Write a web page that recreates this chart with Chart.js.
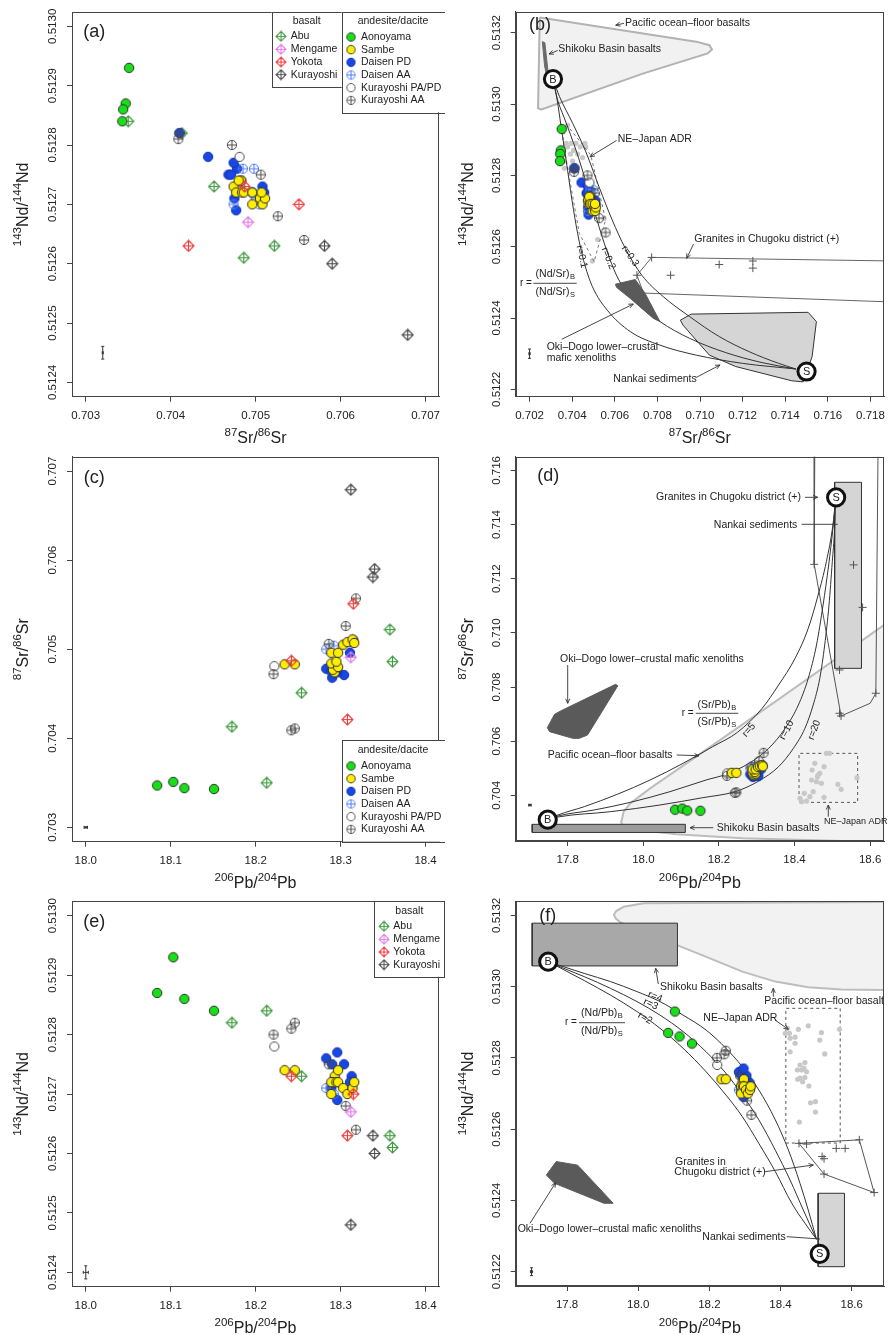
<!DOCTYPE html>
<html>
<head>
<meta charset="utf-8">
<title>Sr–Nd–Pb isotope diagrams</title>
<script src="https://cdn.jsdelivr.net/npm/chart.js@4.4.1/dist/chart.umd.min.js"></script>
<style>
  html, body { margin: 0; padding: 0; background: #fff; }
  #fig { position: relative; width: 890px; height: 1335px; overflow: hidden; }
  #fig canvas { position: absolute; }
</style>
</head>
<body>
<div id="fig">
  <canvas id="pa" width="445" height="445" style="left:0;top:0"></canvas>
  <canvas id="pb" width="445" height="445" style="left:445px;top:0"></canvas>
  <canvas id="pc" width="445" height="445" style="left:0;top:445px"></canvas>
  <canvas id="pd" width="445" height="445" style="left:445px;top:445px"></canvas>
  <canvas id="pe" width="445" height="445" style="left:0;top:890px"></canvas>
  <canvas id="pf" width="445" height="445" style="left:445px;top:890px"></canvas>
</div>
<script>
const FONT = '"Liberation Sans", Arial, Helvetica, sans-serif';

// ---------- samples: 87Sr/86Sr, 143Nd/144Nd, 206Pb/204Pb ----------
// basalts
const abuSr = [0.70413, 0.70350, 0.70451, 0.70522, 0.70486];
const abuNd = [0.51282, 0.51284, 0.51273, 0.51263, 0.51261];
const abuPb = [18.172, 18.213, 18.254, 18.358, 18.361];
const mengameSr = [0.70491];
const mengameNd = [0.51267];
const mengamePb = [18.312];
const yokotaSr = [0.70421, 0.70487, 0.70551];
const yokotaNd = [0.51263, 0.51273, 0.51270];
const yokotaPb = [18.308, 18.242, 18.315];
const kuraBasSr = [0.70581, 0.70590, 0.70679];
const kuraBasNd = [0.51263, 0.51260, 0.51248];
const kuraBasPb = [18.338, 18.340, 18.312];
// andesite / dacite
const aonoSr = [0.70347, 0.70351, 0.70344, 0.70343];
const aonoNd = [0.51287, 0.51293, 0.51286, 0.51284];
const aonoPb = [18.084, 18.103, 18.116, 18.151];
const sambeSr = [0.70483, 0.70483, 0.70474, 0.70477, 0.70484, 0.70480, 0.70486, 0.70496, 0.70496, 0.70505, 0.70508, 0.70511, 0.70507];
const sambeNd = [0.51274, 0.51274, 0.51273, 0.51272, 0.51272, 0.51274, 0.51272, 0.51270, 0.51272, 0.51271, 0.51270, 0.51271, 0.51272];
const sambePb = [18.234, 18.246, 18.293, 18.291, 18.289, 18.297, 18.295, 18.289, 18.297, 18.303, 18.308, 18.314, 18.316];
const daisenPdSr = [0.70410, 0.70444, 0.70478, 0.70468, 0.70471, 0.70474, 0.70510, 0.70508, 0.70496, 0.70475, 0.70477];
const daisenPdNd = [0.51282, 0.51278, 0.51276, 0.51275, 0.51275, 0.51277, 0.51272, 0.51273, 0.51272, 0.51271, 0.51269];
const daisenPdPb = [null, null, 18.283, 18.290, 18.304, 18.296, 18.315, 18.313, 18.311, 18.289, 18.296];
const daisenAaSr = [0.70485, 0.70498, 0.70500, 0.70504, 0.70474];
const daisenAaNd = [0.51276, 0.51276, 0.51271, 0.51270, 0.51270];
const daisenAaPb = [null, null, 18.283, 18.292, null];
const kuraPaSr = [0.70481];
const kuraPaNd = [0.51278];
const kuraPaPb = [18.222];
const kuraAaSr = [0.70472, 0.70409, 0.70411, 0.70506, 0.70526, 0.70557];
const kuraAaNd = [0.51280, 0.51281, 0.51282, 0.51275, 0.51268, 0.51264];
const kuraAaPb = [18.221, 18.242, 18.246, 18.286, 18.306, 18.318];

// end-members
const endB = { sr: 0.70310, nd: 0.51307, pb: 17.747 };
const endS = { sr: 0.71500, nd: 0.51225, pb: 18.510 };

// analytical uncertainty (2 s.d.) drawn at a corner of each diagram
const errA = { x: 0.70320, y: 0.51245, dx: 0.000006, dy: 0.0000107 };
const errB = { x: 0.70200, y: 0.51230, dx: 0.00003, dy: 0.000013 };
const errC = { x: 18.000, y: 0.70300, dx: 0.002, dy: 0.000007 };
const errD = { x: 17.700, y: 0.70364, dx: 0.003, dy: 0.00002 };
const errE = { x: 18.000, y: 0.51240, dx: 0.003, dy: 0.000011 };
const errF = { x: 17.700, y: 0.51220, dx: 0.003, dy: 0.000011 };

// ---------- tick labels ----------
const ticksSr1 = [0.703, 0.704, 0.705, 0.706, 0.707];
const ticksNd1 = [0.5124, 0.5125, 0.5126, 0.5127, 0.5128, 0.5129, 0.5130];
const ticksSr2 = [0.702, 0.704, 0.706, 0.708, 0.710, 0.712, 0.714, 0.716, 0.718];
const ticksNd2 = [0.5122, 0.5124, 0.5126, 0.5128, 0.5130, 0.5132];
const ticksPb1 = [18.0, 18.1, 18.2, 18.3, 18.4];
const ticksPb2 = [17.8, 18.0, 18.2, 18.4, 18.6];
const ticksSr3 = [0.704, 0.706, 0.708, 0.710, 0.712, 0.714, 0.716];

// ---------- reference fields, Sr–Nd plane ----------
const pacificSrNd = [[0.70248,0.513243],[0.70982,0.513175],[0.71044,0.513165],[0.71056,0.513153],[0.71036,0.513142],[0.70735,0.513086],[0.70256,0.512985],[0.70240,0.512988]];
const shikokuSrNd = [[0.70260,0.513175],[0.70272,0.513172],[0.70287,0.513090],[0.70283,0.513075],[0.70271,0.513105]];
const okiSrNd = [[0.706034,0.512495],[0.706961,0.512508],[0.707425,0.512469],[0.708121,0.51239],[0.707811,0.512399],[0.70673,0.512455],[0.70608,0.512486]];
const nankaiSrNd = [[0.709079,0.512394],[0.709589,0.512411],[0.715076,0.512416],[0.715462,0.51239],[0.715261,0.512292],[0.714844,0.512221],[0.714303,0.512224],[0.711675,0.512264],[0.710439,0.512296],[0.709203,0.51238]];
const graniteSrNd = [[0.70773,0.51257],[0.70704,0.51252],[0.70862,0.51252],[0.71090,0.51255],[0.71248,0.51256],[0.71248,0.51254]];
const graniteEnvSrNd = [[0.7190,0.51256],[0.70773,0.51257],[0.70704,0.51252],[0.70735,0.51247],[0.7190,0.512445]];
const adrSrNd = [[0.70379,0.51294],[0.70372,0.51289],[0.70395,0.51289],[0.70418,0.51289],[0.70379,0.51288],[0.70407,0.51287],[0.70438,0.51288],[0.70460,0.51289],[0.70426,0.51286],[0.70392,0.51286],[0.70449,0.51285],[0.70361,0.51284],[0.70402,0.51284],[0.70364,0.51282],[0.70464,0.51288],[0.70480,0.51274],[0.70550,0.51268],[0.70520,0.51262],[0.70495,0.51256]];
const adrEnvSrNd = [[0.703716,0.512944],[0.704875,0.512857],[0.70557,0.512675],[0.705029,0.512558],[0.704334,0.512637],[0.703561,0.512899]];
const mixR01 = [[0.70310,0.51307],[0.703298,0.513011],[0.703484,0.512936],[0.703716,0.512843],[0.703994,0.51273],[0.704257,0.512637],[0.704535,0.512562],[0.704952,0.512488],[0.705648,0.512422],[0.706729,0.512362],[0.708121,0.512324],[0.709821,0.512296],[0.711985,0.512273],[0.7145,0.512257]];
const mixR02 = [[0.70310,0.51307],[0.703298,0.513016],[0.703669,0.512955],[0.704179,0.512871],[0.70472,0.512768],[0.705261,0.512656],[0.705725,0.512572],[0.706189,0.512507],[0.706961,0.512446],[0.708121,0.51239],[0.709512,0.512343],[0.711212,0.512303],[0.712912,0.512275],[0.7145,0.512257]];
const mixR03 = [[0.70310,0.51307],[0.703406,0.513021],[0.704025,0.512946],[0.704643,0.512866],[0.705261,0.512768],[0.705879,0.512675],[0.706498,0.512595],[0.707271,0.51252],[0.708275,0.51246],[0.709512,0.512404],[0.710903,0.512348],[0.712294,0.512306],[0.713685,0.512273],[0.7145,0.512257]];

// ---------- reference fields, Pb–Sr plane ----------
const pacificPbSr = [[18.70,0.710289],[18.6366,0.710289],[18.349,0.707459],[18.1399,0.705428],[18.0179,0.704258],[17.9656,0.703705],[17.948,0.70340],[17.9412,0.70300],[17.950,0.70280],[17.9656,0.702757],[18.0876,0.70256],[18.2619,0.702412],[18.70,0.70225]];
const shikokuPbSr = [[17.706,0.70263],[18.111,0.70263],[18.111,0.70293],[17.706,0.70293]];
const nankaiPbSr = [[18.506,0.70869],[18.577,0.70869],[18.577,0.71556],[18.506,0.71556]];
const okiPbSr = [[17.746,0.706498],[17.7651,0.706991],[17.7826,0.707126],[17.9264,0.708098],[17.9325,0.708049],[17.8523,0.706228],[17.8305,0.706105],[17.8131,0.706105],[17.7521,0.706351]];
const granitePbSr = [[18.452,0.71253],[18.556,0.71251],[18.580,0.71094],[18.519,0.70863],[18.519,0.70703],[18.523,0.70693],[18.615,0.70777]];
const graniteEnvPbSr = [[18.4536,0.7170],[18.452,0.71253],[18.523,0.70693],[18.600,0.70740],[18.615,0.70777],[18.621,0.7170]];
const adrBoxPbSr = [[18.4118,0.70374],[18.5669,0.70374],[18.5669,0.70555],[18.4118,0.70555]];
const adrPbSr = [[18.4841,0.705551],[18.4928,0.705551],[18.4536,0.705182],[18.478,0.705058],[18.4466,0.704935],[18.4623,0.704751],[18.458,0.704505],[18.4449,0.704566],[18.471,0.704443],[18.5146,0.704406],[18.5233,0.704222],[18.5652,0.704652],[18.4492,0.704135],[18.4257,0.704074],[18.4405,0.703951],[18.4144,0.703889],[18.4187,0.703766],[18.4318,0.70379],[18.478,0.703926],[18.4606,0.70469],[18.4667,0.704812]];
const mixR5 = [[17.747,0.70310],[17.7739,0.703274],[17.8436,0.703582],[17.9307,0.704037],[18.0179,0.704566],[18.105,0.705182],[18.1834,0.705797],[18.2488,0.706326],[18.3142,0.707212],[18.3577,0.708074],[18.4013,0.709058],[18.4362,0.710166],[18.4623,0.711397],[18.4841,0.712628],[18.5015,0.713982],[18.5085,0.71490]];
const mixR10 = [[17.747,0.70310],[17.7739,0.703237],[17.8697,0.703459],[17.9656,0.703742],[18.0702,0.704135],[18.166,0.704566],[18.2183,0.704775],[18.2793,0.705182],[18.3316,0.705735],[18.3752,0.706474],[18.41,0.707335],[18.4362,0.70832],[18.458,0.709551],[18.4754,0.711028],[18.4902,0.712505],[18.5015,0.713858],[18.5085,0.71490]];
const mixR20 = [[17.747,0.70310],[17.7739,0.7032],[17.9133,0.703397],[18.044,0.703643],[18.1573,0.703914],[18.2427,0.704135],[18.3054,0.704529],[18.3577,0.705058],[18.3969,0.705735],[18.4274,0.706474],[18.4492,0.707335],[18.4667,0.70832],[18.4797,0.709551],[18.4911,0.711028],[18.4998,0.712628],[18.5059,0.713858],[18.5085,0.71490]];

// ---------- reference fields, Pb–Nd plane ----------
const pacificPbNd = [[18.75,0.513238],[18.0148,0.513234],[17.9593,0.513224],[17.938,0.513212],[17.9315,0.513201],[17.938,0.51319],[17.95,0.51318],[18.0148,0.513154],[18.1074,0.513117],[18.2,0.51308],[18.2926,0.513042],[18.3852,0.513014],[18.4778,0.512998],[18.5704,0.512992],[18.75,0.51299]];
const shikokuPbNd = [[17.7019,0.513058],[18.1102,0.513058],[18.1102,0.513178],[17.7019,0.513178]];
const nankaiPbNd = [[18.5056,0.512214],[18.5796,0.512214],[18.5796,0.51242],[18.5056,0.51242]];
const okiPbNd = [[17.7417,0.512471],[17.7694,0.512509],[17.8296,0.512499],[17.9296,0.512392],[17.9037,0.512392],[17.7648,0.512448]];
const granitePbNd = [[18.4518,0.51256],[18.4731,0.512558],[18.5565,0.512546],[18.5815,0.512546],[18.5167,0.512523],[18.5222,0.512517],[18.5222,0.512474],[18.663,0.512422],[18.6213,0.51257]];
const graniteEnvPbNd = [[18.4518,0.51256],[18.6213,0.51257],[18.663,0.512422],[18.5222,0.512474],[18.4518,0.51256]];
const adrBoxPbNd = [[18.4148,0.512561],[18.5676,0.512561],[18.5676,0.512939],[18.4148,0.512939]];
const adrPbNd = [[18.4194,0.512883],[18.425,0.512869],[18.413,0.512869],[18.4268,0.512855],[18.4407,0.512858],[18.45,0.51288],[18.4778,0.51289],[18.5148,0.512871],[18.5102,0.51285],[18.4407,0.512841],[18.4268,0.512817],[18.5241,0.512811],[18.5657,0.51288],[18.4685,0.512787],[18.4546,0.51278],[18.4472,0.512766],[18.4593,0.512766],[18.4657,0.512771],[18.4731,0.512761],[18.4546,0.512743],[18.4685,0.512745],[18.4481,0.51274],[18.462,0.512733],[18.4796,0.512721],[18.4843,0.512674],[18.4981,0.512677],[18.4981,0.512648],[18.4528,0.51262]];
const mixR4 = [[17.747,0.51307],[17.7741,0.513061],[17.8481,0.513037],[17.9222,0.513014],[17.9963,0.512986],[18.0611,0.512958],[18.1259,0.51292],[18.1907,0.512878],[18.2463,0.512827],[18.2926,0.512775],[18.3389,0.51271],[18.3852,0.512626],[18.4222,0.512541],[18.4546,0.512448],[18.4778,0.512373],[18.5009,0.512291]];
const mixR3 = [[17.747,0.51307],[17.7741,0.513058],[17.8481,0.513028],[17.9222,0.512995],[17.9963,0.512958],[18.0611,0.51292],[18.1259,0.512874],[18.1907,0.512817],[18.2463,0.512757],[18.2926,0.512696],[18.3389,0.512626],[18.3852,0.512541],[18.4268,0.512457],[18.4639,0.512373],[18.5009,0.512291]];
const mixR2 = [[17.747,0.51307],[17.7741,0.513056],[17.8481,0.513017],[17.9222,0.512976],[17.9963,0.51293],[18.0611,0.512883],[18.1259,0.512827],[18.1907,0.512761],[18.2463,0.512696],[18.2926,0.512635],[18.3389,0.51256],[18.3852,0.512481],[18.4315,0.512392],[18.4685,0.512336],[18.5009,0.512291]];

// ---------- marker images ----------
function makeMarker(size, paint) {
  const c = document.createElement('canvas');
  c.width = c.height = size;
  const g = c.getContext('2d');
  paint(g, size / 2);
  return c;
}
function diamondPlus(col) {
  return makeMarker(13, (g, m) => {
    const h = 5.5;
    g.strokeStyle = col; g.lineWidth = 1.1;
    g.beginPath();
    g.moveTo(m, m - h); g.lineTo(m + h, m); g.lineTo(m, m + h); g.lineTo(m - h, m); g.closePath();
    g.moveTo(m, m - h); g.lineTo(m, m + h);
    g.moveTo(m - h, m); g.lineTo(m + h, m);
    g.stroke();
  });
}
function disc(fill, stroke) {
  return makeMarker(12, (g, m) => {
    g.fillStyle = fill; g.strokeStyle = stroke; g.lineWidth = 1;
    g.beginPath(); g.arc(m, m, 4.7, 0, Math.PI * 2); g.fill(); g.stroke();
  });
}
function ring(col) {
  return makeMarker(12, (g, m) => {
    g.fillStyle = '#fff'; g.strokeStyle = col; g.lineWidth = 1;
    g.beginPath(); g.arc(m, m, 4.6, 0, Math.PI * 2); g.fill(); g.stroke();
  });
}
function circlePlus(col) {
  return makeMarker(12, (g, m) => {
    g.strokeStyle = col; g.lineWidth = 1;
    g.beginPath(); g.arc(m, m, 4.6, 0, Math.PI * 2);
    g.moveTo(m, m - 4.6); g.lineTo(m, m + 4.6);
    g.moveTo(m - 4.6, m); g.lineTo(m + 4.6, m);
    g.stroke();
  });
}
const MK = {
  abu: diamondPlus('#3f9a3f'),
  mengame: diamondPlus('#e07ae8'),
  yokota: diamondPlus('#ee3a3a'),
  kuraBas: diamondPlus('#4a4a4a'),
  aono: disc('#18e018', '#2c2c2c'),
  sambe: disc('#ffee00', '#2c2c2c'),
  daisenPd: disc('#1747e4', '#1533a8'),
  daisenAa: circlePlus('#4a78f0'),
  kuraPa: ring('#4a4a4a'),
  kuraAa: circlePlus('#4a4a4a'),
};

const GROUPS = {
  abu:      { label: 'Abu',             sr: abuSr,      nd: abuNd,      pb: abuPb },
  mengame:  { label: 'Mengame',         sr: mengameSr,  nd: mengameNd,  pb: mengamePb },
  yokota:   { label: 'Yokota',          sr: yokotaSr,   nd: yokotaNd,   pb: yokotaPb },
  kuraBas:  { label: 'Kurayoshi',       sr: kuraBasSr,  nd: kuraBasNd,  pb: kuraBasPb },
  aono:     { label: 'Aonoyama',        sr: aonoSr,     nd: aonoNd,     pb: aonoPb },
  sambe:    { label: 'Sambe',           sr: sambeSr,    nd: sambeNd,    pb: sambePb },
  daisenPd: { label: 'Daisen PD',       sr: daisenPdSr, nd: daisenPdNd, pb: daisenPdPb },
  daisenAa: { label: 'Daisen AA',       sr: daisenAaSr, nd: daisenAaNd, pb: daisenAaPb },
  kuraPa:   { label: 'Kurayoshi PA/PD', sr: kuraPaSr,   nd: kuraPaNd,   pb: kuraPaPb },
  kuraAa:   { label: 'Kurayoshi AA',    sr: kuraAaSr,   nd: kuraAaNd,   pb: kuraAaPb },
};
const BASALT_KEYS = ['abu', 'mengame', 'yokota', 'kuraBas'];
const ANDESITE_KEYS = ['aono', 'sambe', 'daisenPd', 'daisenAa', 'kuraPa', 'kuraAa'];
const ALL_ORDER = ['abu', 'daisenPd', 'daisenAa', 'kuraPa', 'kuraAa', 'sambe', 'aono', 'mengame', 'yokota', 'kuraBas'];
const AD_ORDER = ['daisenPd', 'daisenAa', 'kuraPa', 'kuraAa', 'sambe', 'aono'];

// ---------- dataset helpers ----------
function pts(xs, ys) {
  const out = [];
  for (let i = 0; i < xs.length; i++) if (xs[i] != null && ys[i] != null) out.push({ x: xs[i], y: ys[i] });
  return out;
}
const toXY = arr => arr.map(p => ({ x: p[0], y: p[1] }));
function groupSets(keys, xk, yk) {
  return keys.map((k, i) => ({
    data: pts(GROUPS[k][xk], GROUPS[k][yk]),
    showLine: false, fill: false,
    pointStyle: MK[k], pointRadius: 5,
    order: 40 - i,
  }));
}
function shape(arr, o) {
  const d = toXY(arr);
  if (o.closed) d.push({ ...d[0] });
  return {
    data: d, showLine: true, pointRadius: 0,
    borderColor: o.stroke || 'rgba(0,0,0,0)', borderWidth: o.width == null ? 1 : o.width,
    borderDash: o.dash || [],
    backgroundColor: o.fill || 'rgba(0,0,0,0)',
    fill: o.fill ? 'shape' : false,
    tension: o.tension || 0,
    cubicInterpolationMode: o.mono ? 'monotone' : 'default',
    order: o.order,
  };
}
function dots(arr, o) {
  return {
    data: toXY(arr), showLine: false, fill: false,
    pointStyle: o.style || 'circle', pointRadius: o.r,
    backgroundColor: o.fill || 'rgba(0,0,0,0)', borderColor: o.stroke || 'rgba(0,0,0,0)',
    borderWidth: o.width || 0, order: o.order,
  };
}

// ---------- drawing helpers ----------
function txt(ctx, s, x, y, o = {}) {
  ctx.save();
  ctx.font = `${o.size || 10.5}px ${FONT}`;
  ctx.fillStyle = o.color || '#222';
  ctx.textAlign = o.align || 'left';
  ctx.textBaseline = 'middle';
  ctx.translate(x, y);
  if (o.rot) ctx.rotate(o.rot * Math.PI / 180);
  ctx.fillText(s, 0, 0);
  ctx.restore();
}
function seg(ctx, x1, y1, x2, y2, head) {
  ctx.save();
  ctx.strokeStyle = '#333'; ctx.lineWidth = 0.9;
  ctx.beginPath(); ctx.moveTo(x1, y1); ctx.lineTo(x2, y2);
  if (head) {
    const a = Math.atan2(y2 - y1, x2 - x1), L = 5, w = 0.42;
    ctx.moveTo(x2 - L * Math.cos(a - w), y2 - L * Math.sin(a - w));
    ctx.lineTo(x2, y2);
    ctx.lineTo(x2 - L * Math.cos(a + w), y2 - L * Math.sin(a + w));
  }
  ctx.stroke(); ctx.restore();
}
function subText(ctx, base, sub, cx, y) {
  ctx.save();
  ctx.fillStyle = '#222'; ctx.textBaseline = 'middle'; ctx.textAlign = 'left';
  ctx.font = `10.5px ${FONT}`; const bw = ctx.measureText(base).width;
  ctx.font = `7.5px ${FONT}`; const sw = ctx.measureText(sub).width;
  const x0 = cx - (bw + sw) / 2;
  ctx.font = `10.5px ${FONT}`; ctx.fillText(base, x0, y);
  ctx.font = `7.5px ${FONT}`; ctx.fillText(sub, x0 + bw + 0.5, y + 3);
  ctx.restore();
}
function ratioFormula(ctx, base, rx, ry, cx, ny, dy, bx1, bx2) {
  txt(ctx, 'r =', rx, ry, { size: 10 });
  subText(ctx, base, 'B', cx, ny);
  subText(ctx, base, 'S', cx, dy);
  ctx.save(); ctx.strokeStyle = '#333'; ctx.lineWidth = 0.9;
  ctx.beginPath(); ctx.moveTo(bx1, ry); ctx.lineTo(bx2, ry); ctx.stroke(); ctx.restore();
}
function endCircle(ctx, x, y, letter) {
  ctx.save();
  ctx.beginPath(); ctx.arc(x, y, 8.6, 0, Math.PI * 2);
  ctx.fillStyle = '#fff'; ctx.fill();
  ctx.lineWidth = 3; ctx.strokeStyle = '#111'; ctx.stroke();
  ctx.restore();
  txt(ctx, letter, x, y + 0.5, { size: 11, align: 'center' });
}
function isoText(ctx, s, x, y, rot) {
  const toks = s.match(/\d+|[^\d]+/g);
  const big = `16px ${FONT}`, small = `11.5px ${FONT}`;
  let w = 0;
  const parts = toks.map(t => {
    const sup = /^\d+$/.test(t);
    ctx.font = sup ? small : big;
    const tw = ctx.measureText(t).width;
    w += tw;
    return { t, sup, tw };
  });
  ctx.save();
  ctx.translate(x, y); ctx.rotate(rot * Math.PI / 180);
  ctx.fillStyle = '#222'; ctx.textBaseline = 'alphabetic'; ctx.textAlign = 'left';
  let cx = -w / 2;
  for (const p of parts) {
    ctx.font = p.sup ? small : big;
    ctx.fillText(p.t, cx, p.sup ? -1.5 : 6);
    cx += p.tw;
  }
  ctx.restore();
}
function legendBox(ctx, box, title, titleX, titleY, keys, ys, symX, textX) {
  ctx.save();
  ctx.fillStyle = '#fff';
  ctx.fillRect(box[0], box[1], box[2] - box[0], box[3] - box[1]);
  ctx.strokeStyle = '#444'; ctx.lineWidth = 1;
  ctx.strokeRect(Math.round(box[0]) + 0.5, Math.round(box[1]) + 0.5, Math.round(box[2] - box[0]), Math.round(box[3] - box[1]));
  ctx.restore();
  txt(ctx, title, titleX, titleY, { align: 'center' });
  keys.forEach((k, i) => {
    const img = MK[k], s = 0.9;
    ctx.drawImage(img, symX - img.width * s / 2, ys[i] - img.height * s / 2, img.width * s, img.height * s);
    txt(ctx, GROUPS[k].label, textX, ys[i]);
  });
}
function errorBar(ctx, e, px, py) {
  const x = px(e.x), y = py(e.y);
  const x1 = px(e.x - e.dx), x2 = px(e.x + e.dx), y1 = py(e.y - e.dy), y2 = py(e.y + e.dy);
  ctx.save(); ctx.strokeStyle = '#333'; ctx.lineWidth = 1;
  ctx.beginPath();
  ctx.moveTo(x1, y); ctx.lineTo(x2, y);
  ctx.moveTo(x, y1); ctx.lineTo(x, y2);
  ctx.moveTo(x - 1.5, y1); ctx.lineTo(x + 1.5, y1);
  ctx.moveTo(x - 1.5, y2); ctx.lineTo(x + 1.5, y2);
  ctx.moveTo(x1, y - 1.5); ctx.lineTo(x1, y + 1.5);
  ctx.moveTo(x2, y - 1.5); ctx.lineTo(x2, y + 1.5);
  ctx.stroke(); ctx.restore();
}

// ---------- panel builder ----------
const YW = 45, XH = 40;
function panel(id, cfg) {
  const A = cfg.area;
  const axis = (ax, fixed) => ({
    type: 'linear', min: ax.min, max: ax.max,
    afterBuildTicks: s => { s.ticks = ax.ticks.map(v => ({ value: v })); },
    afterFit: s => {
      if (fixed === 'w') s.width = YW; else s.height = XH;
      s.paddingLeft = 0; s.paddingRight = 0; s.paddingTop = 0; s.paddingBottom = 0;
    },
    grid: { display: true, drawOnChartArea: false, drawTicks: true, tickLength: 5, color: '#444', lineWidth: 1 },
    border: { display: true, color: '#444', width: 1 },
    ticks: { display: false },
  });
  new Chart(document.getElementById(id), {
    type: 'line',
    data: { datasets: cfg.datasets },
    options: {
      responsive: false, animation: false, events: [],
      layout: { padding: { left: A.l - YW, top: A.t, right: 445 - A.r, bottom: 445 - A.b - XH } },
      plugins: { legend: { display: false }, tooltip: { enabled: false } },
      scales: { x: axis(cfg.x, 'h'), y: axis(cfg.y, 'w') },
    },
    plugins: [{
      id: 'frame_' + id,
      afterDraw(chart) {
        const ctx = chart.ctx, a = chart.chartArea;
        const X = chart.scales.x, Y = chart.scales.y;
        const px = v => X.getPixelForValue(v), py = v => Y.getPixelForValue(v);
        ctx.save();
        ctx.strokeStyle = '#444'; ctx.lineWidth = 1;
        ctx.strokeRect(Math.round(a.left) + 0.5, Math.round(a.top) + 0.5, Math.round(a.right - a.left) - 1, Math.round(a.bottom - a.top) - 1);
        ctx.restore();
        cfg.x.ticks.forEach(v => txt(ctx, v.toFixed(cfg.x.dec), px(v), a.bottom + 19, { size: 11.5, align: 'center' }));
        cfg.y.ticks.forEach(v => txt(ctx, v.toFixed(cfg.y.dec), a.left - 19, py(v), { size: 11.5, align: 'center', rot: -90 }));
        isoText(ctx, cfg.x.title, (a.left + a.right) / 2, 437, 0);
        isoText(ctx, cfg.y.title, 22, (a.top + a.bottom) / 2, -90);
        if (cfg.err) errorBar(ctx, cfg.err, px, py);
        if (cfg.notes) cfg.notes(ctx, px, py);
        txt(ctx, cfg.tag[0], cfg.tag[1], cfg.tag[2], { size: 18, align: 'center' });
      },
    }],
  });
}

// (a) Sr–Nd, all samples
panel('pa', {
  area: { l: 72, t: 12, r: 444.3, b: 396.7 },
  x: { min: 0.702838, max: 0.707158, ticks: ticksSr1, dec: 3, title: '87Sr/86Sr' },
  y: { min: 0.5123759, max: 0.5130241, ticks: ticksNd1, dec: 4, title: '143Nd/144Nd' },
  datasets: groupSets(ALL_ORDER, 'sr', 'nd'),
  err: errA,
  tag: ['(a)', 94.3, 31.7],
  notes(ctx) {
    legendBox(ctx, [271.7, 11.7, 341.7, 86.7], 'basalt', 306.7, 20.7, BASALT_KEYS, [36.3, 49.3, 62, 74.7], 281, 290.7);
    legendBox(ctx, [341.7, 11.7, 444.3, 112.3], 'andesite/dacite', 393, 20.7, ANDESITE_KEYS, [37, 49.7, 62.3, 75, 87.7, 100.3], 351, 361);
  },
});

// (b) Sr–Nd with mixing curves
panel('pb', {
  area: { l: 70.7, t: 11.7, r: 443.3, b: 396.7 },
  x: { min: 0.701351, max: 0.718634, ticks: ticksSr2, dec: 3, title: '87Sr/86Sr' },
  y: { min: 0.5121794, max: 0.513259, ticks: ticksNd2, dec: 4, title: '143Nd/144Nd' },
  datasets: [
    shape(pacificSrNd, { closed: true, fill: '#f1f1f1', stroke: '#b2b2b2', width: 2, order: 100 }),
    shape(shikokuSrNd, { closed: true, fill: '#6a6a6a', stroke: '#6a6a6a', width: 1, order: 95 }),
    shape(nankaiSrNd, { closed: true, fill: '#d5d5d5', stroke: '#333', width: 1, order: 90 }),
    shape(graniteEnvSrNd, { stroke: '#666', width: 1, order: 88 }),
    dots(adrSrNd, { r: 2.6, fill: '#c8c8c8', order: 86 }),
    shape(adrEnvSrNd, { closed: true, stroke: '#777', width: 1, dash: [3, 3], order: 85 }),
    shape(mixR01, { stroke: '#333', width: 1, mono: true, order: 80 }),
    shape(mixR02, { stroke: '#333', width: 1, mono: true, order: 80 }),
    shape(mixR03, { stroke: '#333', width: 1, mono: true, order: 80 }),
    shape(okiSrNd, { closed: true, fill: '#5a5a5a', stroke: '#5a5a5a', width: 1, order: 78 }),
    dots(graniteSrNd, { style: 'cross', r: 4, stroke: '#555', width: 1, order: 70 }),
    ...groupSets(AD_ORDER, 'sr', 'nd'),
  ],
  err: errB,
  tag: ['(b)', 95, 25],
  notes(ctx, px, py) {
    txt(ctx, 'Pacific ocean–floor basalts', 180, 22.7); seg(ctx, 179, 23.3, 170.7, 25.2, true);
    txt(ctx, 'Shikoku Basin basalts', 113.3, 49.3); seg(ctx, 112.7, 50.5, 104, 54, true);
    txt(ctx, 'NE–Japan ADR', 172.7, 139.3); seg(ctx, 171.5, 140.5, 145, 156.7, true);
    txt(ctx, 'Granites in Chugoku district (+)', 249.3, 239.3); seg(ctx, 248.5, 244, 241.7, 258.3, true);
    ratioFormula(ctx, '(Nd/Sr)', 75, 283.3, 110, 274, 291.7, 88.3, 131.7);
    txt(ctx, 'Oki–Dogo lower–crustal', 101.7, 346.7);
    txt(ctx, 'mafic xenoliths', 101.7, 358.3);
    seg(ctx, 116.7, 339.3, 188.3, 304, true);
    txt(ctx, 'Nankai sediments', 168.3, 379.3); seg(ctx, 250.7, 377.7, 275, 365, true);
    txt(ctx, 'r=0.1', 136.7, 256.7, { size: 10, rot: 78, align: 'center' });
    txt(ctx, 'r=0.2', 163.3, 258.3, { size: 10, rot: 68, align: 'center' });
    txt(ctx, 'r=0.3', 185, 256, { size: 10, rot: 55, align: 'center' });
    endCircle(ctx, px(endB.sr), py(endB.nd), 'B');
    endCircle(ctx, px(endS.sr), py(endS.nd), 'S');
  },
});

// (c) Pb–Sr, all samples
panel('pc', {
  area: { l: 72, t: 11.7, r: 444.3, b: 396.7 },
  x: { min: 17.98377, max: 18.4158, ticks: ticksPb1, dec: 1, title: '206Pb/204Pb' },
  y: { min: 0.702839, max: 0.707161, ticks: ticksSr1, dec: 3, title: '87Sr/86Sr' },
  datasets: groupSets(ALL_ORDER, 'pb', 'sr'),
  err: errC,
  tag: ['(c)', 94.3, 33.3],
  notes(ctx) {
    legendBox(ctx, [341.7, 295, 444.3, 396.7], 'andesite/dacite', 393, 305, ANDESITE_KEYS, [321, 333.7, 346.3, 359, 371.7, 384.3], 351, 361);
  },
});

// (d) Pb–Sr with mixing curves
panel('pd', {
  area: { l: 70.7, t: 11.7, r: 443.3, b: 396 },
  x: { min: 17.6623, max: 18.6366, ticks: ticksPb2, dec: 1, title: '206Pb/204Pb' },
  y: { min: 0.702314, max: 0.716505, ticks: ticksSr3, dec: 3, title: '87Sr/86Sr' },
  datasets: [
    shape(pacificPbSr, { closed: true, fill: '#f2f2f2', stroke: '#bdbdbd', width: 2, order: 100 }),
    shape(shikokuPbSr, { closed: true, fill: '#9c9c9c', stroke: '#333', width: 1, order: 95 }),
    shape(nankaiPbSr, { closed: true, fill: '#d5d5d5', stroke: '#333', width: 1, order: 90 }),
    shape(graniteEnvPbSr, { stroke: '#555', width: 1, order: 88 }),
    shape(adrBoxPbSr, { closed: true, stroke: '#555', width: 1, dash: [3, 3], order: 86 }),
    dots(adrPbSr, { r: 2.6, fill: '#c8c8c8', order: 85 }),
    shape(okiPbSr, { closed: true, fill: '#5a5a5a', stroke: '#5a5a5a', width: 1, order: 84 }),
    shape(mixR5, { stroke: '#333', width: 1, mono: true, order: 80 }),
    shape(mixR10, { stroke: '#333', width: 1, mono: true, order: 80 }),
    shape(mixR20, { stroke: '#333', width: 1, mono: true, order: 80 }),
    dots(granitePbSr, { style: 'cross', r: 4, stroke: '#555', width: 1, order: 70 }),
    ...groupSets(AD_ORDER, 'pb', 'sr'),
  ],
  err: errD,
  tag: ['(d)', 103.3, 30.7],
  notes(ctx, px, py) {
    txt(ctx, 'Granites in Chugoku district (+)', 356, 52.3, { align: 'right' }); seg(ctx, 360, 52.3, 372.7, 52.3, true);
    txt(ctx, 'Nankai sediments', 352.3, 80, { align: 'right' }); seg(ctx, 356.7, 79.3, 392.7, 79.3, false);
    txt(ctx, 'Oki–Dogo lower–crustal mafic xenoliths', 115, 214); seg(ctx, 122.7, 220, 122.7, 258.3, true);
    ratioFormula(ctx, '(Sr/Pb)', 236.7, 268.3, 271.7, 260, 276.7, 250.7, 293.3);
    txt(ctx, 'Pacific ocean–floor basalts', 102.7, 310); seg(ctx, 231.7, 310, 254, 310.7, true);
    txt(ctx, 'Shikoku Basin basalts', 271.7, 382.7); seg(ctx, 268.3, 382.7, 245, 382.7, true);
    txt(ctx, 'NE–Japan ADR', 379, 376.7, { size: 9 }); seg(ctx, 383.3, 371.7, 383.3, 360, true);
    txt(ctx, 'r=5', 304, 285, { size: 10, rot: -50, align: 'center' });
    txt(ctx, 'r=10', 341.7, 285, { size: 10, rot: -62, align: 'center' });
    txt(ctx, 'r=20', 369.3, 285, { size: 10, rot: -70, align: 'center' });
    endCircle(ctx, px(endB.pb), py(endB.sr), 'B');
    endCircle(ctx, px(endS.pb), py(endS.sr), 'S');
  },
});

// (e) Pb–Nd, all samples
panel('pe', {
  area: { l: 72, t: 11, r: 444.3, b: 396.7 },
  x: { min: 17.98377, max: 18.4158, ticks: ticksPb1, dec: 1, title: '206Pb/204Pb' },
  y: { min: 0.5123759, max: 0.5130247, ticks: ticksNd1, dec: 4, title: '143Nd/144Nd' },
  datasets: groupSets(ALL_ORDER, 'pb', 'nd'),
  err: errE,
  tag: ['(e)', 94.3, 31.7],
  notes(ctx) {
    legendBox(ctx, [374.3, 11, 444.3, 86.7], 'basalt', 409.3, 20.7, BASALT_KEYS, [36.3, 49.3, 62, 74.7], 384, 393.3);
  },
});

// (f) Pb–Nd with mixing curves
panel('pf', {
  area: { l: 70.7, t: 11, r: 443.3, b: 396 },
  x: { min: 17.6556, max: 18.6907, ticks: ticksPb2, dec: 1, title: '206Pb/204Pb' },
  y: { min: 0.5121598, max: 0.5132402, ticks: ticksNd2, dec: 4, title: '143Nd/144Nd' },
  datasets: [
    shape(pacificPbNd, { closed: true, fill: '#f2f2f2', stroke: '#bdbdbd', width: 2, order: 100 }),
    shape(shikokuPbNd, { closed: true, fill: '#a8a8a8', stroke: '#333', width: 1, order: 95 }),
    shape(nankaiPbNd, { closed: true, fill: '#d5d5d5', stroke: '#333', width: 1, order: 90 }),
    shape(graniteEnvPbNd, { stroke: '#555', width: 1, order: 88 }),
    shape(adrBoxPbNd, { closed: true, stroke: '#555', width: 1, dash: [3, 3], order: 86 }),
    dots(adrPbNd, { r: 2.6, fill: '#c8c8c8', order: 85 }),
    shape(okiPbNd, { closed: true, fill: '#5a5a5a', stroke: '#5a5a5a', width: 1, order: 84 }),
    shape(mixR4, { stroke: '#333', width: 1, mono: true, order: 80 }),
    shape(mixR3, { stroke: '#333', width: 1, mono: true, order: 80 }),
    shape(mixR2, { stroke: '#333', width: 1, mono: true, order: 80 }),
    dots(granitePbNd, { style: 'cross', r: 4, stroke: '#555', width: 1, order: 70 }),
    ...groupSets(AD_ORDER, 'pb', 'nd'),
  ],
  err: errF,
  tag: ['(f)', 102.7, 26],
  notes(ctx, px, py) {
    txt(ctx, 'Shikoku Basin basalts', 215, 97.3); seg(ctx, 213.3, 94, 210.7, 78.3, true);
    txt(ctx, 'Pacific ocean–floor basalt', 319.3, 111); seg(ctx, 328.3, 106.7, 328.3, 98.3, true);
    txt(ctx, 'NE–Japan ADR', 258.3, 127.7); seg(ctx, 330, 130, 343.3, 139.3, true);
    ratioFormula(ctx, '(Nd/Pb)', 120, 132.7, 156.7, 123.3, 140.7, 134, 180);
    txt(ctx, 'Granites in', 230, 271.7);
    txt(ctx, 'Chugoku district (+)', 229.3, 281.7); seg(ctx, 320, 281.7, 368.3, 275, true);
    txt(ctx, 'Oki–Dogo lower–crustal mafic xenoliths', 72.7, 339); seg(ctx, 85, 333.3, 110.7, 292.7, true);
    txt(ctx, 'Nankai sediments', 257.3, 346.7); seg(ctx, 341.7, 346.7, 375, 349, false);
    txt(ctx, 'r=4', 210, 106.7, { size: 10, rot: 22, align: 'center' });
    txt(ctx, 'r=3', 205.7, 114.3, { size: 10, rot: 25, align: 'center' });
    txt(ctx, 'r=2', 200, 128.3, { size: 10, rot: 30, align: 'center' });
    endCircle(ctx, px(endB.pb), py(endB.nd), 'B');
    endCircle(ctx, px(endS.pb), py(endS.nd), 'S');
  },
});
</script>
</body>
</html>
